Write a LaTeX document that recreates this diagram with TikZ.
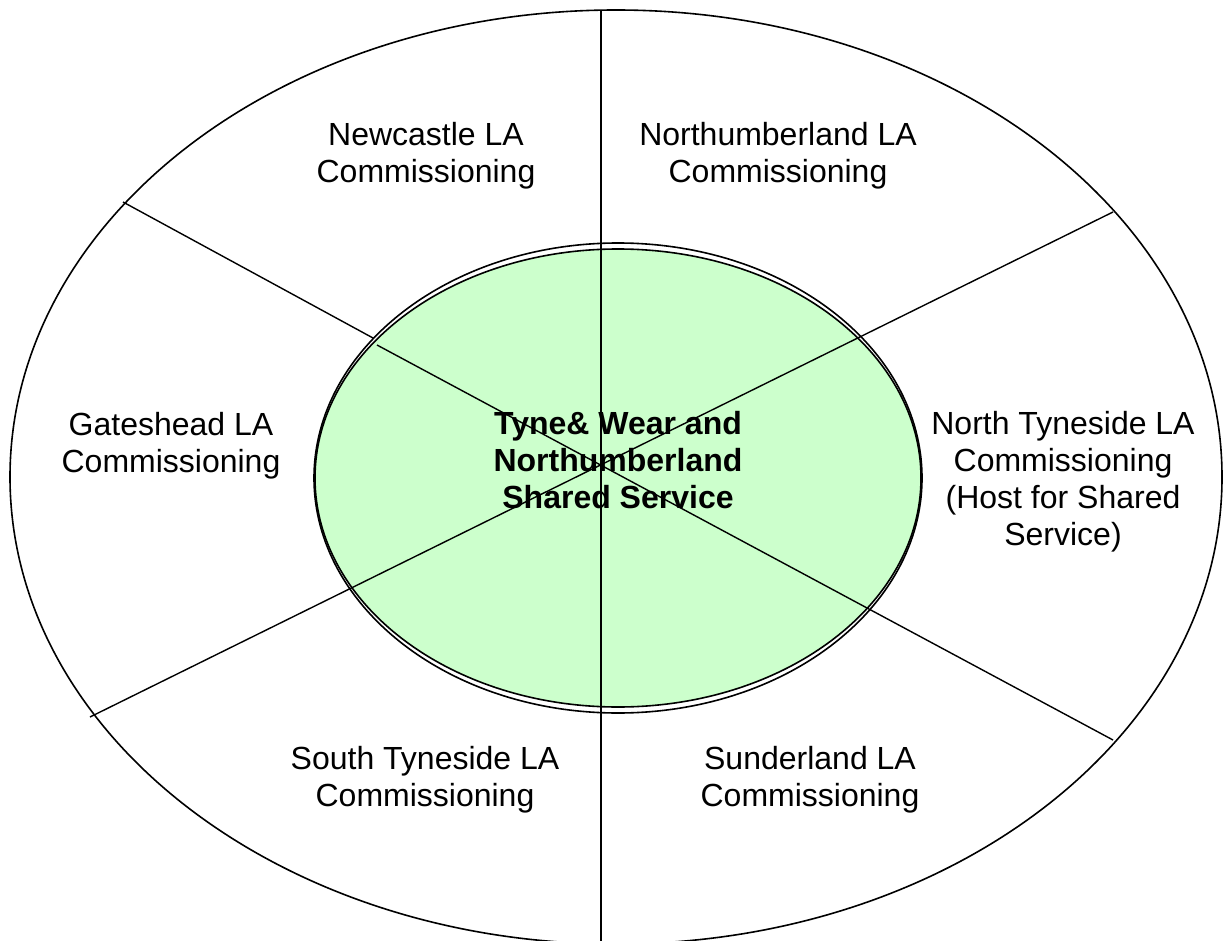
\documentclass[tikz,border=0pt]{standalone}
\usepackage{fontspec}
\setmainfont{Liberation Sans}
\usepackage{tikz}
\usetikzlibrary{positioning}
\definecolor{hubgreen}{RGB}{204,255,204}
\tikzset{
  lbl/.style={align=center, inner sep=0pt, font=\fontsize{16pt}{18.5pt}\selectfont},
  hub/.style={lbl, font=\fontsize{16pt}{18.5pt}\selectfont\bfseries},
  rim/.style={line width=0.8pt},
  spoke/.style={line width=0.7pt}
}

\begin{document}
\begin{tikzpicture}[x=0.5pt,y=-0.5pt]

  \useasboundingbox (0,0) rectangle (1225,941);

  \coordinate (O) at (616,477);  % outer ring
  \coordinate (C) at (618,478);  % shared service

  \draw[rim] (O) ellipse [x radius=303pt, y radius=233.5pt];
  \draw[rim] (C) ellipse [x radius=152pt, y radius=117.5pt];
  \draw[rim, fill=hubgreen] (C) ellipse [x radius=151.5pt, y radius=114.5pt];

  %% spoke ends
  \coordinate (top) at (601,10);
  \coordinate (bot) at (601,941);
  \coordinate (nw) at (123,202);
  \coordinate (nwin) at (373,338);
  \coordinate (nwhub) at (377,345);
  \coordinate (se) at (1113,740);
  \coordinate (ne) at (1113,212);
  \coordinate (sw) at (90,717);

  \draw[spoke] (top) -- (bot);
  \draw[spoke] (nw) -- (nwin);
  \draw[spoke] (nwhub) -- (se);
  \draw[spoke] (sw) -- (ne);

  \node[lbl] (newcastle) at (426,156) {Newcastle LA\\Commissioning};
  \node[lbl] (northumb) at (778,156) {Northumberland LA\\Commissioning};
  \node[lbl] (gateshead) at (171,446) {Gateshead LA\\Commissioning};
  \node[lbl] (ntyne) at (1063,482) {North Tyneside LA\\Commissioning\\(Host for Shared\\Service)};
  \node[lbl] (styne) at (425,780) {South Tyneside LA\\Commissioning};
  \node[lbl] (sunder) at (810,780) {Sunderland LA\\Commissioning};
  \node[hub] (shared) at (618,460) {Tyne\& Wear and\\Northumberland\\Shared Service};

\end{tikzpicture}
\end{document}
